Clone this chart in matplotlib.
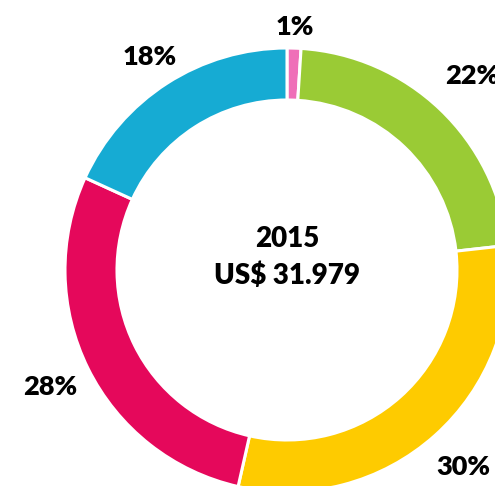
import numpy as np
import matplotlib
matplotlib.use("Agg")
import matplotlib.pyplot as plt

# data, clockwise from 12 o'clock
labels = ["1%", "22%", "30%", "28%", "18%"]
values = [1, 22, 30, 28, 18]
colors = ["#EF6FB8", "#9ACB35", "#FECB00", "#E5085B", "#16ABD3"]
title_year = "2015"
title_total = "US$ 31.979"

# label distance from centre, in units of the outer radius
label_dist = [1.095, 1.21, 1.19, 1.19, 1.14]

plt.rcParams['font.family'] = ['Lato', 'DejaVu Sans']

W, H = 495, 486
fig = plt.figure(figsize=(W / 100, H / 100), dpi=100)
ax = fig.add_axes([0, 0, 1, 1])

cx, cy = 287, H - 270
radius = 222
ring = 52

wedges, _ = ax.pie(values, colors=colors, startangle=90, counterclock=False,
                   center=(cx, cy), radius=radius,
                   wedgeprops=dict(width=ring, edgecolor='white', linewidth=2.2))

for w, lab, d in zip(wedges, labels, label_dist):
    ang = np.deg2rad((w.theta1 + w.theta2) / 2)
    x = cx + d * radius * np.cos(ang)
    y = cy + d * radius * np.sin(ang)
    ax.text(x, y, lab, ha='center', va='center', fontsize=19.5,
            fontweight='heavy', color='black')

ax.text(cx, cy + 31, title_year, ha='center', va='center', fontsize=20,
        fontweight='heavy', color='black')
ax.text(cx, cy - 6, title_total, ha='center', va='center', fontsize=20,
        fontweight='heavy', color='black')

ax.set_xlim(0, W)
ax.set_ylim(0, H)
ax.set_aspect('equal')
ax.axis('off')

fig.savefig("out.png", dpi=100)
